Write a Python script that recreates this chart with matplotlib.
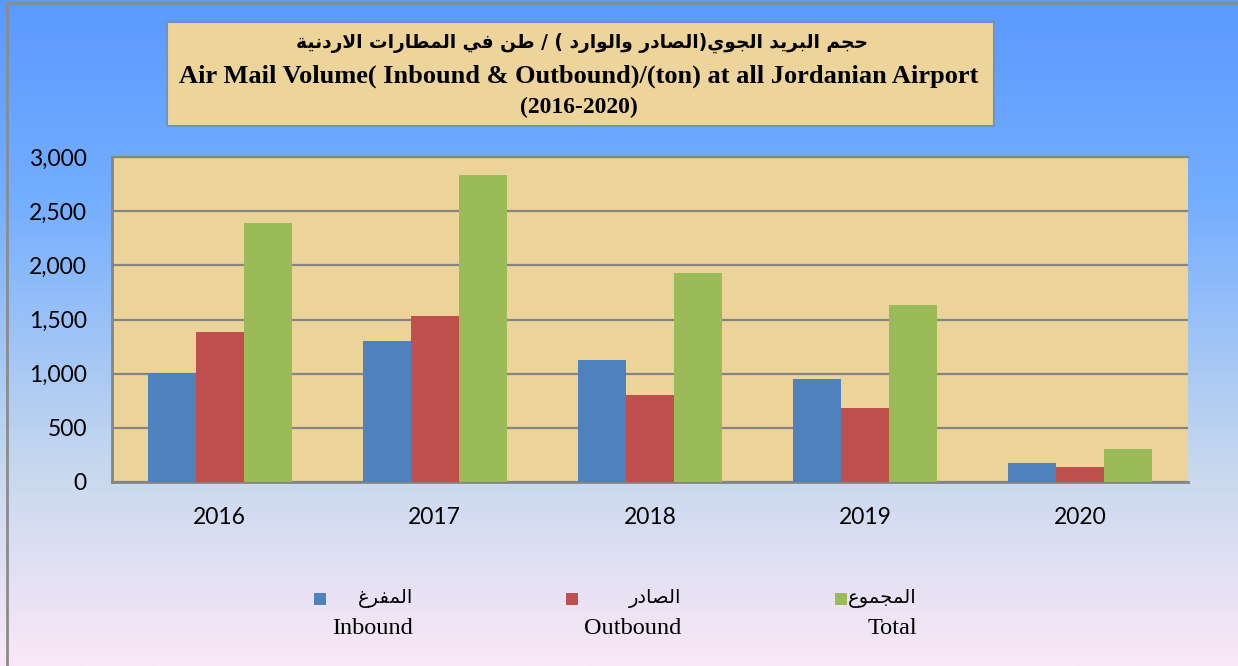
import numpy as np
import matplotlib
matplotlib.use('Agg')
import matplotlib.pyplot as plt
from matplotlib.patches import Rectangle
from matplotlib.colors import LinearSegmentedColormap

# data (ton)
years = ['2016', '2017', '2018', '2019', '2020']
inbound = [1003, 1301, 1126, 948, 175]
outbound = [1385, 1532, 807, 683, 136]
total = [2394, 2837, 1933, 1631, 308]

title_ar = 'حجم البريد الجوي(الصادر والوارد ) / طن في المطارات الاردنية'
title_en = 'Air Mail Volume( Inbound & Outbound)/(ton) at all Jordanian Airport'
title_years = '(2016-2020)'
labels_ar = ['المفرغ', 'الصادر', 'المجموع']
labels_en = ['Inbound', 'Outbound', 'Total']
colors = ['#4F81BD', '#C0504D', '#9BBB59']

# matplotlib does no arabic shaping -> use presentation forms, visual order
FORMS = {
    'ا': (0xFE8D, 0xFE8E, None, None),
    'ب': (0xFE8F, 0xFE90, 0xFE91, 0xFE92),
    'ة': (0xFE93, 0xFE94, None, None),
    'ت': (0xFE95, 0xFE96, 0xFE97, 0xFE98),
    'ج': (0xFE9D, 0xFE9E, 0xFE9F, 0xFEA0),
    'ح': (0xFEA1, 0xFEA2, 0xFEA3, 0xFEA4),
    'د': (0xFEA9, 0xFEAA, None, None),
    'ر': (0xFEAD, 0xFEAE, None, None),
    'ص': (0xFEB9, 0xFEBA, 0xFEBB, 0xFEBC),
    'ط': (0xFEC1, 0xFEC2, 0xFEC3, 0xFEC4),
    'ع': (0xFEC9, 0xFECA, 0xFECB, 0xFECC),
    'غ': (0xFECD, 0xFECE, 0xFECF, 0xFED0),
    'ف': (0xFED1, 0xFED2, 0xFED3, 0xFED4),
    'ل': (0xFEDD, 0xFEDE, 0xFEDF, 0xFEE0),
    'م': (0xFEE1, 0xFEE2, 0xFEE3, 0xFEE4),
    'ن': (0xFEE5, 0xFEE6, 0xFEE7, 0xFEE8),
    'و': (0xFEED, 0xFEEE, None, None),
    'ي': (0xFEF1, 0xFEF2, 0xFEF3, 0xFEF4),
    'LA': (0xFEFB, 0xFEFC, None, None),
}


def shape(s):
    tokens = []
    i = 0
    while i < len(s):
        if s[i] == 'ل' and i + 1 < len(s) and s[i + 1] == 'ا':
            tokens.append('LA')
            i += 2
        else:
            tokens.append(s[i])
            i += 1
    out = []
    for i, t in enumerate(tokens):
        if t not in FORMS:
            out.append(t)
            continue
        prev = tokens[i - 1] if i > 0 else None
        nxt = tokens[i + 1] if i + 1 < len(tokens) else None
        jp = prev in FORMS and FORMS[prev][2] is not None
        jn = FORMS[t][2] is not None and nxt in FORMS
        iso, fin, ini, med = FORMS[t]
        if jp and jn:
            c = med
        elif jp:
            c = fin
        elif jn:
            c = ini
        else:
            c = iso
        out.append(chr(c))
    mirror = {'(': ')', ')': '('}
    return ''.join(mirror.get(c, c) for c in reversed(out))


W, H = 1238, 666
fig = plt.figure(figsize=(W / 100, H / 100), dpi=100)

# background gradient
bg = fig.add_axes([0, 0, 1, 1], zorder=-10)
cmap = LinearSegmentedColormap.from_list('bg', [
    (0.0, '#5A9AFF'), (0.3, '#74AEFF'), (0.7, '#C6D8EE'), (1.0, '#FAE8F7')])
bg.imshow(np.linspace(0, 1, 256).reshape(-1, 1), aspect='auto', cmap=cmap,
          extent=[0, 1, 0, 1])
bg.set_xlim(0, 1)
bg.set_ylim(0, 1)
bg.axis('off')
# outer frame (left / top)
bg.plot([7 / W, 7 / W], [0, 1 - 3 / H], color='#8C8C8C', lw=2)
bg.plot([7 / W, 1], [1 - 3 / H, 1 - 3 / H], color='#8C8C8C', lw=2)

# title box
bg.add_patch(Rectangle((167 / W, 1 - 126 / H), (994 - 167) / W, (126 - 22) / H,
                       facecolor='#ECD49A', edgecolor='#6F93C4', lw=1.5))
fig.text(582 / W, 1 - 43 / H, shape(title_ar), ha='center', va='center',
         fontsize=13.4, fontweight='bold', family=['DejaVu Sans'])
fig.text(579 / W, 1 - 76 / H, title_en, ha='center', va='center',
         fontsize=19, fontweight='bold', family=['Liberation Serif'])
fig.text(579 / W, 1 - 107 / H, title_years, ha='center', va='center',
         fontsize=17, fontweight='bold', family=['Liberation Serif'])

# chart
ax = fig.add_axes([112 / W, 1 - 482 / H, (1188 - 112) / W, (482 - 157) / H])
ax.set_facecolor('#EBD39A')
x = np.arange(len(years))
w = 0.223
for k, vals in enumerate([inbound, outbound, total]):
    ax.bar(x + (k - 1) * w, vals, w, color=colors[k], zorder=3)

ax.set_xlim(-0.5, len(years) - 0.5)
ax.set_ylim(0, 3000)
ax.set_yticks(range(0, 3001, 500))
ax.set_yticklabels([f'{v:,}' for v in range(0, 3001, 500)])
ax.set_xticks(x)
ax.set_xticklabels(years)
ax.grid(axis='y', color='#858585', lw=1.6, zorder=1)
ax.tick_params(length=0, labelsize=16.5, colors='black')
ax.tick_params(axis='y', pad=18)
ax.tick_params(axis='x', pad=18)
for lab in ax.get_xticklabels() + ax.get_yticklabels():
    lab.set_family('Lato')
ax.spines['right'].set_visible(False)
ax.spines['top'].set_color('#858585')
ax.spines['top'].set_linewidth(1.6)
for side in ['left', 'bottom']:
    ax.spines[side].set_color('#858585')
    ax.spines[side].set_linewidth(2)

# legend drawn by hand (arabic over english)
sq_x = [314, 566, 835]
txt_r = [413, 681, 917]
for k in range(3):
    bg.add_patch(Rectangle((sq_x[k] / W, 1 - 605 / H), 12 / W, 12 / H,
                           facecolor=colors[k], edgecolor='none'))
    fig.text(txt_r[k] / W, 1 - 598 / H, shape(labels_ar[k]), ha='right',
             va='center', fontsize=14, family=['DejaVu Sans'])
    fig.text(txt_r[k] / W, 1 - 628 / H, labels_en[k], ha='right',
             va='center', fontsize=17.5, family=['Liberation Serif'])

fig.savefig('out.png', dpi=100)
